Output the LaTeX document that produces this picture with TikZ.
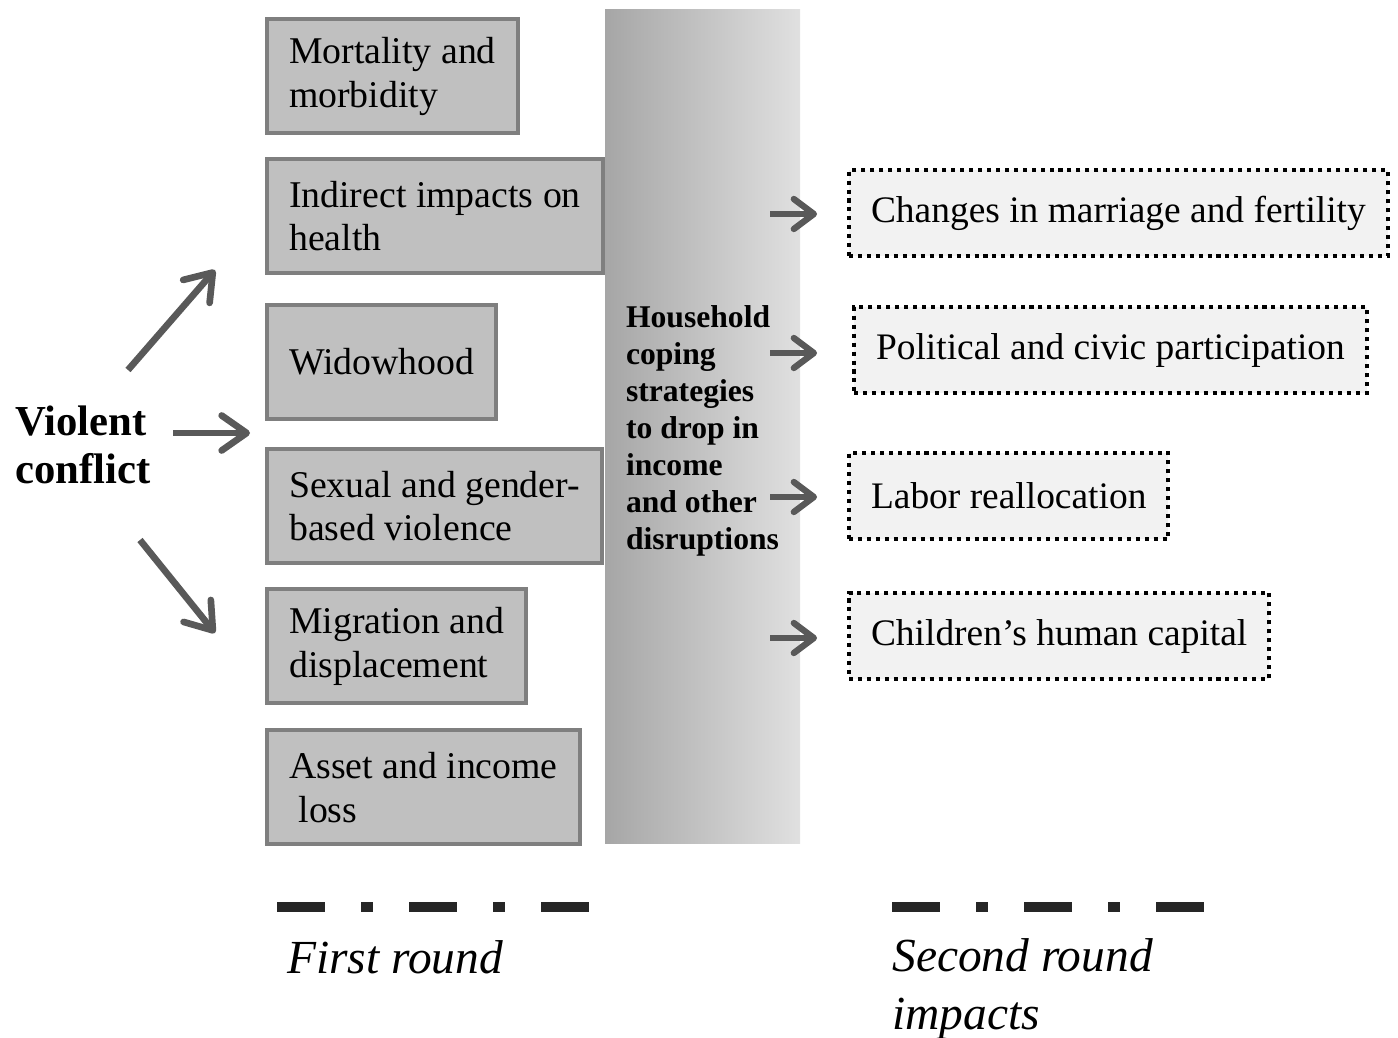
\documentclass[tikz,border=0pt]{standalone}
\usepackage{fontspec}
\setmainfont{Liberation Serif}
\usepackage{xcolor}
\usepackage{tikz}
\usetikzlibrary{arrows.meta}
\usetikzlibrary{calc}
\definecolor{boxfill}{RGB}{192,192,192}
\definecolor{boxline}{RGB}{127,127,127}
\definecolor{outfill}{RGB}{242,242,242}
\definecolor{arrowgray}{RGB}{89,89,89}
\definecolor{copeleft}{RGB}{166,166,166}
\definecolor{coperight}{RGB}{224,224,224}
\definecolor{legenddark}{RGB}{38,38,38}
\tikzstyle{block} = [draw=boxline, fill=boxfill,
	line width=2.4pt,
	anchor=north west, align=left,
	minimum height=2.28cm, inner xsep=0.44cm,
	font=\fontsize{21.5}{25}\selectfont]
\tikzstyle{outcome} = [draw=black, fill=outfill,
	line width=2.3pt, dash pattern=on 2.3pt off 2.8pt,
	anchor=west,
	minimum height=1.72cm, inner xsep=0.44cm,
	font=\fontsize{21.3}{25}\selectfont]
\tikzstyle{arrow} = [-{Straight Barb[length=4mm, width=6mm, round]}, line width=3.6pt, draw=arrowgray]
\tikzstyle{bigarrow} = [-{Straight Barb[length=5mm, width=7mm, round]}, line width=3.8pt, draw=arrowgray]
\tikzstyle{roundline} = [line width=0.2cm, draw=legenddark,
	dash pattern=on 0.96cm off 0.72cm on 0.24cm off 0.72cm]
\tikzstyle{roundlabel} = [inner sep=0pt, align=left,
	font=\fontsize{27}{33}\selectfont\itshape]

\begin{document}
\begin{tikzpicture}
			\useasboundingbox (0,0) rectangle (27.96,-20.76);
			
			\node (vc) [anchor=west, inner sep=0pt, align=left,
				font=\fontsize{24.3}{27.3}\selectfont\bfseries] at (0.30,-8.90) {Violent\\conflict};
			
			\node (m1) [block] at (5.30,-0.34) {Mortality and\\morbidity};
			\node (m2) [block] at (5.30,-3.14) {Indirect impacts on\\health};
			\node (m3) [block] at (5.30,-6.06) {Widowhood};
			\node (m4) [block] at (5.30,-8.94) {Sexual and gender-\\based violence};
			\node (m5) [block] at (5.30,-11.74) {Migration and\\displacement};
			\node (m6) [block] at (5.30,-14.56) {Asset and income\\\ loss};
			
			\coordinate (u1) at (2.56,-7.40);
			\coordinate (u2) at (4.30,-5.40);
			\coordinate (h1) at (3.46,-8.66);
			\coordinate (h2) at (5.00,-8.66);
			\coordinate (d1) at (2.80,-10.80);
			\coordinate (d2) at (4.30,-12.66);
			\draw [bigarrow] (u1) -- (u2);
			\draw [bigarrow] (h1) -- (h2);
			\draw [bigarrow] (d1) -- (d2);
			
			\shade [left color=copeleft, right color=coperight] (12.10,-0.20) rectangle (16.00,-16.86);
			\node (cope) [align=left,
				font=\fontsize{18}{21}\selectfont\bfseries] at (14.05,-8.62)
				{Household\\coping\\strategies\\to drop in\\income\\and other\\disruptions};
			
			\node (o1) [outcome] at (16.94,-4.26) {Changes in marriage and fertility};
			\node (o2) [outcome] at (17.04,-7.00) {Political and civic participation};
			\node (o3) [outcome] at (16.94,-9.92) {Labor reallocation};
			\node (o4) [outcome] at (16.94,-12.72) {Children’s human capital};
			
			\coordinate (t1) at (15.40,-4.28);
			\coordinate (t2) at (15.40,-7.06);
			\coordinate (t3) at (15.40,-9.94);
			\coordinate (t4) at (15.40,-12.76);
			\draw [arrow, shorten >=0.6cm] (t1) -- (t1 -| o1.west);
			\draw [arrow, shorten >=0.7cm] (t2) -- (t2 -| o2.west);
			\draw [arrow, shorten >=0.6cm] (t3) -- (t3 -| o3.west);
			\draw [arrow, shorten >=0.6cm] (t4) -- (t4 -| o4.west);
			
			\draw [roundline] (5.54,-18.14) -- (11.78,-18.14);
			\draw [roundline] (17.84,-18.14) -- (24.08,-18.14);
			\node (r1) [roundlabel, anchor=base west] at (5.74,-19.46) {First round};
			\node (r2) [roundlabel, anchor=north west] at (17.84,-18.76) {Second round\\impacts};
			
		\end{tikzpicture}
\end{document}
